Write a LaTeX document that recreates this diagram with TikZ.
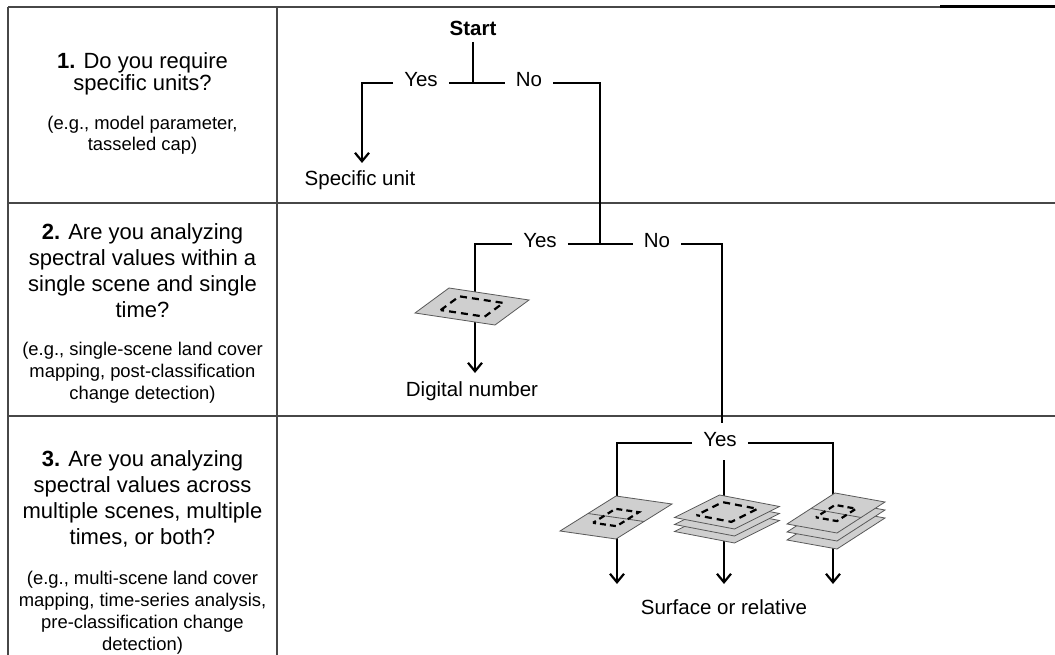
\documentclass[tikz,border=0pt]{standalone}
\usepackage{fontspec}
\setmainfont{Liberation Sans}
\usetikzlibrary{arrows.meta}
\begin{document}
\begin{tikzpicture}[x=1pt,y=-1pt,
  grid/.style={draw=black!72, line width=1.1pt},
  flow/.style={draw=black, line width=2.2pt},
  arr/.style={flow, -{Straight Barb[length=8.5pt,width=14pt]}},
  lbl/.style={font=\fontsize{20.5}{23}\selectfont, inner ysep=0pt, inner xsep=11pt, text height=0.72em, text depth=0pt},
  qtext/.style={font=\fontsize{22}{26}\selectfont, align=center, inner sep=0pt},
  etext/.style={font=\fontsize{18.4}{22}\selectfont, align=center, inner sep=0pt},
  scenefill/.style={fill=black!19, draw=black!65, line width=0.8pt},
  splitline/.style={draw=black!65, line width=0.8pt},
  dashsq/.style={draw=black, line width=2.2pt, dash pattern=on 7pt off 5pt, dash phase=3.5pt},
  digi/.style={x={(40pt,-6pt)}, y={(17pt,12.5pt)}},
  midi/.style={x={(30pt,-5.75pt)}, y={(22.5pt,11.25pt)}},
  lefti/.style={x={(28pt,-4pt)}, y={(28pt,17.5pt)}},
  righti/.style={x={(25pt,-4.5pt)}, y={(24pt,15.5pt)}}
]
\useasboundingbox (0,0) rectangle (1055,655);

% table
\draw[grid] (8,7) -- (1055,7);
\draw[grid] (8,7) -- (8,655);
\draw[grid] (277,7) -- (277,655);
\draw[grid] (8,203) -- (1055,203);
\draw[grid] (8,416) -- (1055,416);
\draw[line width=3pt] (940,7) -- (1055,7);

% left column texts
\node[qtext, font=\fontsize{22}{22.5}\selectfont] (q1) at (142.5,74) {\textbf{1.} Do you require\\specific units?};
\node[etext, font=\fontsize{18.4}{21}\selectfont] (e1) at (142.5,135.5) {(e.g., model parameter,\\tasseled cap)};
\node[qtext] (q2) at (142.5,271) {\textbf{2.} Are you analyzing\\spectral values within a\\single scene and single\\time?};
\node[etext] (e2) at (142.5,372.5) {(e.g., single-scene land cover\\mapping, post-classification\\change detection)};
\node[qtext] (q3) at (142.5,498.5) {\textbf{3.} Are you analyzing\\spectral values across\\multiple scenes, multiple\\times, or both?};
\node[etext] (e3) at (142.5,613) {(e.g., multi-scene land cover\\mapping, time-series analysis,\\pre-classification change\\detection)};

% row 1
\node[lbl, font=\fontsize{20.5}{23}\selectfont\bfseries, inner sep=0pt] (start) at (473,32) {Start};
\coordinate (j1) at (473,83);
\node[lbl] (yes1) at (421,83) {Yes};
\node[lbl] (no1) at (529,83) {No};
\coordinate (l1) at (362,83);
\coordinate (a1) at (362,163);
\node[lbl, inner xsep=0pt] (spec) at (360,182) {Specific unit};
\coordinate (r1) at (600,83);
\draw[flow] ([yshift=-6pt]start.south) -- (j1);
\draw[flow] (yes1.east) -- (no1.west);
\draw[arr] (yes1.west) -- (l1) -- (a1);

% row 2
\coordinate (j2) at (600,244);
\node[lbl] (yes2) at (540,244) {Yes};
\node[lbl] (no2) at (657,244) {No};
\coordinate (l2) at (475,244);
\coordinate (a2) at (475,373);
\coordinate (r2) at (722,244);
\coordinate (e2end) at (722,423);
\node[lbl, inner xsep=0pt] (dn) at (472,393) {Digital number};
\draw[flow] (no1.east) -- (r1) -- (j2);
\draw[flow] (yes2.east) -- (no2.west);
\draw[arr] (yes2.west) -- (l2) -- (a2);
\draw[flow] (no2.east) -- (r2) -- (e2end);

\begin{scope}[shift={(472,306.5)}, digi]
  \filldraw[scenefill] (-1,-1) -- (1,-1) -- (1,1) -- (-1,1) -- cycle;
  \draw[dashsq] (-0.55,-0.55) -- (0.55,-0.55) -- (0.55,0.55) -- (-0.55,0.55) -- cycle;
\end{scope}

% row 3
\node[lbl] (yes3) at (720,443) {Yes};
\coordinate (l3) at (617,443);
\coordinate (r3) at (833,443);
\coordinate (m3) at (724,460);
\coordinate (a3l) at (617,584);
\coordinate (a3m) at (724,584);
\coordinate (a3r) at (833,584);
\node[lbl, inner xsep=0pt] (surf) at (724,611) {Surface or relative};
\draw[arr] (yes3.west) -- (l3) -- (a3l);
\draw[arr] (yes3.east) -- (r3) -- (a3r);
\draw[arr] (m3) -- (a3m);

% left icon: two adjacent scenes
\begin{scope}[shift={(616,517.5)}, lefti]
  \filldraw[scenefill] (-1,-1) -- (1,-1) -- (1,1) -- (-1,1) -- cycle;
  \draw[splitline] (-1,0) -- (1,0);
  \draw[dashsq, dash pattern=on 6pt off 4pt, dash phase=3pt] (-0.42,-0.4) -- (0.42,-0.4) -- (0.42,0.4) -- (-0.42,0.4) -- cycle;
\end{scope}

% middle icon: three stacked scenes
\foreach \dy in {14,7} {
  \begin{scope}[shift={(727,512+\dy)}, midi]
    \filldraw[scenefill] (-1,-1) -- (1,-1) -- (1,1) -- (-1,1) -- cycle;
  \end{scope}
}
\begin{scope}[shift={(727,512)}, midi]
  \filldraw[scenefill] (-1,-1) -- (1,-1) -- (1,1) -- (-1,1) -- cycle;
  \draw[dashsq, dash pattern=on 7pt off 5pt, dash phase=3.5pt] (-0.58,-0.58) -- (0.58,-0.58) -- (0.58,0.58) -- (-0.58,0.58) -- cycle;
\end{scope}

% right icon: three stacked split scenes
\foreach \dy in {16,8} {
  \begin{scope}[shift={(836,513+\dy)}, righti]
    \filldraw[scenefill] (-1,-1) -- (1,-1) -- (1,1) -- (-1,1) -- cycle;
  \end{scope}
}
\begin{scope}[shift={(836,513)}, righti]
  \filldraw[scenefill] (-1,-1) -- (1,-1) -- (1,1) -- (-1,1) -- cycle;
  \draw[splitline] (-1,0) -- (1,0);
  \draw[dashsq, dash pattern=on 6pt off 4pt, dash phase=3pt] (-0.42,-0.4) -- (0.42,-0.4) -- (0.42,0.4) -- (-0.42,0.4) -- cycle;
\end{scope}
\end{tikzpicture}
\end{document}
